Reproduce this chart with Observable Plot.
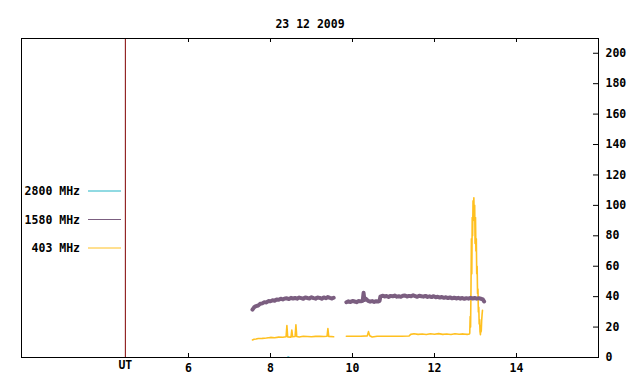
<!DOCTYPE html>
<html>
<head>
<meta charset="utf-8">
<script src="https://cdn.jsdelivr.net/npm/d3@7"></script>
<script src="https://cdn.jsdelivr.net/npm/@observablehq/plot@0.6"></script>
<style>
  html, body { margin: 0; padding: 0; background: #fff; }
  svg { display: block; }
</style>
</head>
<body>
<div id="chart"></div>
<script>
// ---- Data ----
const title = "23 12 2009";
const xTicks = [6, 8, 10, 12, 14];
const yTicks = [0, 20, 40, 60, 80, 100, 120, 140, 160, 180, 200];
const utHour = 4.46;
const legendNames = ["2800 MHz", "1580 MHz", "403 MHz"];
const legendColors = ["#22b5c6", "#7b5e80", "#ffc020"];

// 1580 MHz (hours UT, flux); null marks a data gap
const t1580 = [7.56,7.60,7.65,7.70,7.75,7.80,7.85,7.90,7.95,8.00,8.05,8.10,8.15,8.20,8.25,8.30,8.35,8.40,8.45,8.50,8.55,8.60,8.65,8.70,8.75,8.80,8.85,8.90,8.95,9.00,9.05,9.10,9.15,9.20,9.25,9.30,9.35,9.40,9.45,9.50,9.54,
  9.70,
  9.85,9.90,9.95,10.00,10.05,10.10,10.15,10.20,10.25,10.27,10.29,10.33,10.38,10.43,10.48,10.53,10.58,10.63,10.66,10.68,10.73,10.78,10.83,10.88,10.93,10.98,11.03,11.08,11.13,11.18,11.23,11.28,11.33,11.38,11.43,11.48,11.53,11.58,11.63,11.68,11.73,11.78,11.83,11.88,11.93,11.98,12.03,12.08,12.13,12.18,12.23,12.28,12.33,12.38,12.43,12.48,12.53,12.58,12.63,12.68,12.73,12.78,12.83,12.88,12.93,12.98,13.03,13.08,13.13,13.18,13.21];
const v1580 = [31.5,33.0,33.8,34.2,35.3,35.6,36.4,36.2,37.1,37.0,37.6,37.3,38.1,37.9,38.6,38.2,38.8,38.9,38.4,39.2,38.8,39.1,38.7,39.4,39.0,38.6,39.5,39.1,38.8,39.6,39.0,38.7,39.4,39.2,38.6,39.5,39.0,39.7,39.2,38.8,39.3,
  null,
  36.3,36.9,36.5,37.2,36.8,36.4,37.1,36.9,37.3,42.5,37.8,38.5,37.2,36.7,37.1,36.5,37.0,36.8,37.2,40.0,40.6,40.1,40.4,39.8,40.5,40.2,40.7,40.0,40.3,39.9,40.6,40.8,40.1,40.5,40.2,40.9,40.4,39.9,40.6,40.3,40.0,40.5,39.8,40.2,39.7,40.3,39.6,39.9,39.4,39.8,39.2,39.6,39.1,39.5,38.9,39.3,38.8,39.2,38.7,39.1,38.6,39.0,38.7,39.2,38.8,39.1,38.7,39.0,38.6,38.2,36.8];

// 403 MHz
const t403 = [7.56,7.60,7.65,7.70,7.80,7.90,8.00,8.10,8.20,8.30,8.38,8.40,8.42,8.50,8.52,8.54,8.60,8.62,8.64,8.70,8.80,8.90,9.00,9.10,9.20,9.30,9.38,9.40,9.42,9.54,
  9.70,
  9.85,10.00,10.20,10.36,10.39,10.42,10.48,10.60,10.80,11.00,11.20,11.38,11.42,11.50,11.60,11.70,11.80,11.90,12.00,12.10,12.20,12.30,12.40,12.50,12.60,12.70,12.80,12.85,
  12.86,12.87,12.88,12.89,12.90,12.91,12.92,12.93,12.94,12.95,12.96,12.97,12.98,12.99,13.00,13.01,13.02,13.03,13.04,13.05,13.06,13.07,13.08,13.09,13.10,13.11,13.12,13.13,13.14,13.15,13.16,13.17];
const v403 = [11.5,12.0,12.2,12.5,12.6,12.8,13.2,13.0,13.4,13.3,13.6,21.0,13.5,13.4,18.0,13.6,13.8,21.5,13.8,13.5,14.0,13.8,13.6,13.9,14.0,13.8,14.0,19.0,13.9,13.6,
  null,
  14.0,14.0,14.0,14.2,17.0,14.3,13.5,14.0,14.0,14.0,14.0,14.1,15.2,15.6,15.2,15.5,15.1,15.6,15.3,15.7,15.2,15.5,15.1,15.6,15.3,15.5,15.2,15.4,
  16.0,27.0,20.0,45.0,78.0,55.0,92.0,80.0,103.0,96.0,105.0,90.0,100.0,75.0,92.0,70.0,78.0,55.0,60.0,42.0,45.0,30.0,33.0,22.0,25.0,17.0,15.0,21.0,17.0,24.0,28.0,31.0];

// 2800 MHz (only a trace near zero)
const t2800 = [8.42, 8.45];
const v2800 = [0.4, 0.4];

const toRows = (t, v) => t.map((x, i) => ({x, y: v[i]}));
const rows1580 = toRows(t1580, v1580);
const rows403 = toRows(t403, v403);
const rows2800 = toRows(t2800, v2800);

const FONT = "DejaVu Sans Mono";
const FS = 11.5;

const chart = Plot.plot({
  width: 640,
  height: 384,
  marginLeft: 21,
  marginRight: 42,
  marginTop: 38,
  marginBottom: 27,
  style: {fontFamily: FONT, fontSize: FS + "px", fontWeight: "bold", background: "#fff", color: "#000"},
  x: {domain: [1.927, 16.0], axis: null},
  y: {domain: [0, 209.7], axis: null},
  marks: [
    Plot.ruleX([utHour], {x: d => d, stroke: "#800000", strokeWidth: 1}),
    Plot.line(rows403, {x: "x", y: "y", stroke: legendColors[2], strokeWidth: 1.6}),
    Plot.line(rows1580, {x: "x", y: "y", stroke: legendColors[1], strokeWidth: 4}),
    Plot.line(rows2800, {x: "x", y: "y", stroke: legendColors[0], strokeWidth: 1}),
    Plot.frame({stroke: "#000", strokeWidth: 1}),
    Plot.tickX(xTicks, {x: d => d, insetTop: 315, stroke: "#000"}),
    Plot.tickX(xTicks, {x: d => d, insetBottom: 315, stroke: "#000"}),
    Plot.tickY(yTicks, {y: d => d, insetLeft: 572, stroke: "#000"}),
    Plot.text(xTicks, {x: d => d, frameAnchor: "bottom", dy: 14, text: d => String(d), fontSize: FS, fontWeight: "bold"}),
    Plot.text(["UT"], {x: () => utHour, frameAnchor: "bottom", dy: 11, text: d => d, fontSize: FS, fontWeight: "bold"}),
    Plot.text(yTicks, {y: d => d, frameAnchor: "right", dx: 7, textAnchor: "start", text: d => String(d), fontSize: FS, fontWeight: "bold"}),
    Plot.text([title], {frameAnchor: "top", dy: -19, text: d => d, fontSize: FS, fontWeight: "bold"})
  ]
});

// Legend inside the plot, at left
const svg = d3.select(chart);
const lg = svg.append("g").attr("font-family", FONT).attr("font-size", FS).attr("font-weight", "bold");
legendNames.forEach((name, i) => {
  const y = 191 + i * 28.5;
  lg.append("text").attr("x", 80).attr("y", y).attr("dy", "0.35em").attr("text-anchor", "end").attr("fill", "#000").text(name);
  lg.append("line").attr("x1", 88).attr("x2", 121).attr("y1", y).attr("y2", y).attr("stroke", legendColors[i]).attr("stroke-width", 1);
});

document.getElementById("chart").appendChild(chart);
</script>
</body>
</html>
